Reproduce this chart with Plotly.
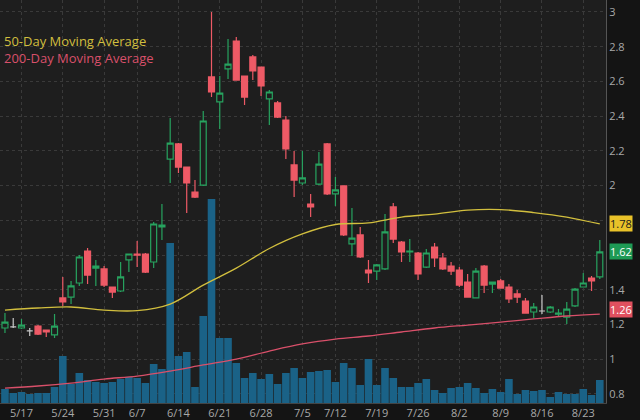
import pandas as pd
import plotly.graph_objects as go

# ---------------- data ----------------
dates = pd.bdate_range("2021-05-13", "2021-08-25", freq="C",
                       holidays=["2021-05-31", "2021-07-05"]).strftime("%Y-%m-%d").tolist()

open_ = [1.180, 1.186, 1.180, 1.163, 1.191, 1.168, 1.140, 1.353, 1.358, 1.439,
         1.623, 1.525, 1.520, 1.416, 1.393, 1.572, 1.606, 1.606, 1.560, 1.762,
         2.153, 2.240, 2.107, 1.963, 2.003, 2.626, 2.482, 2.672, 2.833, 2.631,
         2.741, 2.683, 2.499, 2.476, 2.378, 2.119, 2.015, 1.894, 2.009, 2.240,
         1.952, 1.998, 1.664, 1.716, 1.514, 1.508, 1.520, 1.877, 1.675, 1.618,
         1.612, 1.531, 1.646, 1.583, 1.537, 1.514, 1.445, 1.353, 1.537, 1.433,
         1.451, 1.416, 1.376, 1.335, 1.272, 1.278, 1.272, 1.260, 1.243, 1.307,
         1.416, 1.468, 1.474]
high = [1.266, 1.237, 1.232, 1.180, 1.197, 1.168, 1.260, 1.474, 1.451, 1.600,
        1.641, 1.572, 1.537, 1.416, 1.560, 1.606, 1.681, 1.612, 1.790, 1.894,
        2.389, 2.245, 2.107, 2.032, 2.430, 3.000, 2.631, 2.844, 2.856, 2.631,
        2.752, 2.683, 2.551, 2.487, 2.401, 2.199, 2.199, 1.952, 2.194, 2.245,
        2.050, 1.998, 1.871, 1.762, 1.572, 1.548, 1.836, 1.900, 1.681, 1.692,
        1.618, 1.635, 1.669, 1.612, 1.560, 1.531, 1.491, 1.525, 1.543, 1.445,
        1.462, 1.433, 1.399, 1.353, 1.324, 1.370, 1.307, 1.289, 1.330, 1.410,
        1.497, 1.479, 1.687]
low = [1.151, 1.180, 1.174, 1.134, 1.140, 1.128, 1.122, 1.307, 1.318, 1.422,
       1.433, 1.422, 1.416, 1.353, 1.387, 1.502, 1.531, 1.497, 1.525, 1.687,
       2.015, 2.073, 1.842, 1.929, 1.998, 2.510, 2.326, 2.614, 2.608, 2.464,
       2.608, 2.516, 2.349, 2.389, 2.153, 1.934, 2.003, 1.819, 2.003, 1.946,
       1.883, 1.710, 1.595, 1.583, 1.439, 1.456, 1.514, 1.669, 1.560, 1.560,
       1.456, 1.525, 1.531, 1.514, 1.485, 1.416, 1.358, 1.353, 1.381, 1.381,
       1.410, 1.324, 1.324, 1.266, 1.237, 1.260, 1.266, 1.243, 1.203, 1.301,
       1.416, 1.393, 1.462]
close = [1.214, 1.186, 1.197, 1.163, 1.145, 1.157, 1.191, 1.330, 1.422, 1.589,
         1.485, 1.537, 1.427, 1.387, 1.474, 1.606, 1.600, 1.502, 1.779, 1.773,
         2.245, 2.107, 2.015, 1.934, 2.372, 2.539, 2.533, 2.700, 2.608, 2.510,
         2.660, 2.574, 2.539, 2.395, 2.211, 2.032, 2.044, 1.877, 2.124, 1.952,
         1.975, 1.716, 1.698, 1.589, 1.497, 1.543, 1.733, 1.692, 1.618, 1.623,
         1.491, 1.612, 1.583, 1.520, 1.508, 1.427, 1.358, 1.508, 1.427, 1.445,
         1.410, 1.347, 1.358, 1.266, 1.301, 1.278, 1.301, 1.266, 1.289, 1.404,
         1.439, 1.451, 1.618]
volume_m = [1.4, 1.0, 1.1, 0.9, 1.0, 1.0, 1.6, 4.7, 1.9, 3.0,
            2.3, 2.1, 2.0, 2.1, 2.4, 2.6, 2.5, 2.0, 3.9, 3.4,
            16.0, 4.7, 5.1, 1.6, 8.7, 20.4, 6.5, 6.5, 4.0, 2.5,
            3.0, 2.4, 2.9, 1.9, 3.0, 3.5, 2.5, 3.1, 3.2, 3.3,
            2.1, 4.0, 3.5, 1.8, 4.4, 1.8, 3.5, 2.5, 1.6, 1.6,
            2.0, 2.4, 1.3, 1.0, 1.5, 1.6, 2.0, 1.5, 1.0, 1.4,
            1.1, 2.4, 0.9, 1.3, 1.2, 1.3, 0.6, 1.1, 0.9, 0.9,
            1.4, 0.8, 2.3]

# moving averages sampled every 4th session
ma_dates = dates[::4]
ma50 = [1.283, 1.295, 1.301, 1.283, 1.280, 1.318, 1.427, 1.525, 1.638, 1.722,
        1.776, 1.785, 1.819, 1.836, 1.859, 1.862, 1.845, 1.819, 1.779]
ma200 = [0.834, 0.846, 0.863, 0.886, 0.903, 0.932, 0.967, 1.001, 1.047, 1.088,
         1.116, 1.134, 1.157, 1.180, 1.197, 1.214, 1.232, 1.249, 1.260]

tick_dates = ["2021-05-17", "2021-05-24", "2021-06-01", "2021-06-07", "2021-06-14",
              "2021-06-21", "2021-06-28", "2021-07-06", "2021-07-12", "2021-07-19",
              "2021-07-26", "2021-08-02", "2021-08-09", "2021-08-16", "2021-08-23"]
tick_labels = ["5/17", "5/24", "5/31", "6/7", "6/14", "6/21", "6/28", "7/5",
               "7/12", "7/19", "7/26", "8/2", "8/9", "8/16", "8/23"]
price_ticks = [0.8, 1.0, 1.2, 1.4, 1.6, 1.8, 2.0, 2.2, 2.4, 2.6, 2.8, 3.0]
# 1.6 and 1.8 sit under the value badges in the original
price_tick_labels = ["0.8", "1", "1.2", "1.4", "", "", "2", "2.2", "2.4", "2.6", "2.8", "3"]

# ---------------- style ----------------
PLOT_BG = "#1e1e1e"
PAPER_BG = "#141414"
UP = "#27a35f"
DOWN = "#ee5a66"
FLAT = "#c8c8c8"
VOL = "#1a6287"
YEL = "#d2bf3e"
PINK = "#d9506a"
FONT = "Open Sans"

fig = go.Figure()

fig.add_trace(go.Bar(x=dates, y=volume_m, marker_color=VOL, marker_line_width=0,
                     yaxis="y", showlegend=False, hoverinfo="skip"))

fig.add_trace(go.Scatter(x=ma_dates, y=ma200, mode="lines", yaxis="y2",
                         line=dict(color=PINK, width=1.3, shape="spline"), showlegend=False))
fig.add_trace(go.Scatter(x=ma_dates, y=ma50, mode="lines", yaxis="y2",
                         line=dict(color=YEL, width=1.3, shape="spline"), showlegend=False))

moving = [i for i in range(len(dates)) if open_[i] != close[i]]
flat = [i for i in range(len(dates)) if open_[i] == close[i]]

fig.add_trace(go.Candlestick(
    x=[dates[i] for i in moving], open=[open_[i] for i in moving],
    high=[high[i] for i in moving], low=[low[i] for i in moving],
    close=[close[i] for i in moving], yaxis="y2", showlegend=False,
    increasing=dict(line=dict(color=UP, width=1.2), fillcolor=PLOT_BG),
    decreasing=dict(line=dict(color=DOWN, width=1.2), fillcolor=DOWN),
    whiskerwidth=0))
fig.add_trace(go.Candlestick(
    x=[dates[i] for i in flat], open=[open_[i] for i in flat],
    high=[high[i] for i in flat], low=[low[i] for i in flat],
    close=[close[i] for i in flat], yaxis="y2", showlegend=False,
    increasing=dict(line=dict(color=FLAT, width=1.2), fillcolor=FLAT),
    decreasing=dict(line=dict(color=FLAT, width=1.2), fillcolor=FLAT),
    whiskerwidth=0))

annotations = [
    dict(text="50-Day Moving Average", x=0.004, y=0.898, xref="paper", yref="paper",
         xanchor="left", yanchor="middle", showarrow=False,
         font=dict(family=FONT, size=13, color=YEL)),
    dict(text="200-Day Moving Average", x=0.004, y=0.855, xref="paper", yref="paper",
         xanchor="left", yanchor="middle", showarrow=False,
         font=dict(family=FONT, size=13, color=PINK)),
]
for val, bg, fg, ys in [(ma50[-1], "#e9c229", "#1a1a1a", 0),
                        (close[-1], "#1e9a55", "#ffffff", 0),
                        (ma200[-1], "#e0505f", "#ffffff", 5)]:
    annotations.append(dict(text=f"{val:.2f}", x=1, y=val, xref="paper", yref="y2",
                            xanchor="left", yanchor="middle", xshift=3, yshift=ys,
                            showarrow=False, bgcolor=bg, borderpad=0,
                            font=dict(family=FONT, size=11, color=fg)))

fig.update_layout(
    width=640, height=420,
    margin=dict(l=0, r=34, t=0, b=17),
    paper_bgcolor=PAPER_BG, plot_bgcolor=PLOT_BG,
    bargap=0.08, boxgap=0.15, boxgroupgap=0.15,
    font=dict(family=FONT, size=11, color="#a8a8a8"),
    xaxis=dict(type="category", categoryorder="array", categoryarray=dates,
               range=[-0.6, 72.75], rangeslider=dict(visible=False),
               tickvals=tick_dates, ticktext=tick_labels,
               showgrid=True, gridcolor="#3a3a3a", griddash="dot", gridwidth=1,
               showline=True, linecolor="#444444", ticks="",
               tickfont=dict(family=FONT, size=11, color="#a8a8a8")),
    yaxis=dict(range=[0, 40.3], visible=False, showgrid=False, fixedrange=True),
    yaxis2=dict(overlaying="y", side="right", range=[0.748, 3.069],
                tickvals=price_ticks, ticktext=price_tick_labels,
                showgrid=True, gridcolor="#3a3a3a", griddash="dot", gridwidth=1,
                showline=True, linecolor="#555555", ticks="", zeroline=False,
                tickfont=dict(family=FONT, size=11, color="#a8a8a8")),
    annotations=annotations,
    showlegend=False,
)

fig.write_html("out.html")
